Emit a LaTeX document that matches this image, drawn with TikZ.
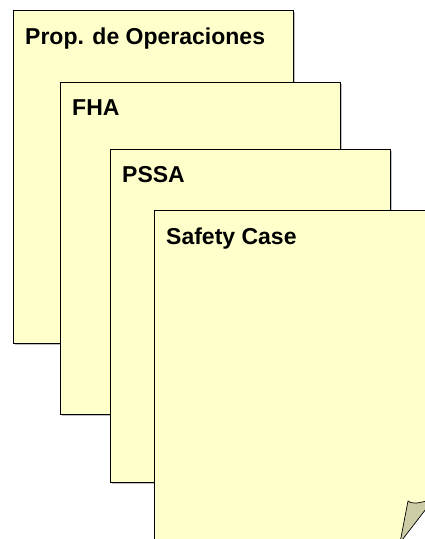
\documentclass[tikz,border=0pt]{standalone}
\usepackage{fontspec}
\setmainfont{Liberation Sans}
\usetikzlibrary{shadows}
\definecolor{pagefill}{RGB}{255,255,204}
\definecolor{curlfill}{RGB}{204,204,166}
\begin{document}
\begin{tikzpicture}[x=1pt,y=-1pt,
  page/.style={draw=black, line width=0.9pt, fill=pagefill,
    drop shadow={shadow xshift=1.5pt, shadow yshift=-1.5pt, fill=black!25, opacity=1}},
  title/.style={anchor=base west, inner sep=0pt, font=\fontsize{23}{27}\selectfont\bfseries}]
\useasboundingbox (0,0) rectangle (425,539);
\begin{scope}
  \clip (0,0) rectangle (425,539);
  \draw[page] (13,10) rectangle (293,343);
  \node[title] (t1) at (25,44) {Prop. de Operaciones};
  \draw[page] (60,82) rectangle (340,414);
  \node[title] (t2) at (72,115) {FHA};
  \draw[page] (110,149) rectangle (390,482);
  \node[title] (t3) at (122,182) {PSSA};
  \draw[page] (154,210) rectangle (445,560);
  \node[title] (t4) at (166,244) {Safety Case};
  % folded corner
  \fill[white] (402,539) -- (426,509) -- (426,540) -- cycle;
  \draw[fill=curlfill, line width=0.7pt, line join=round]
    (400.5,540) -- (408,501) .. controls (411,503.5) and (416,504) .. (426,501)
    -- (426,509) -- (402,540) -- cycle;
\end{scope}
\end{tikzpicture}
\end{document}
